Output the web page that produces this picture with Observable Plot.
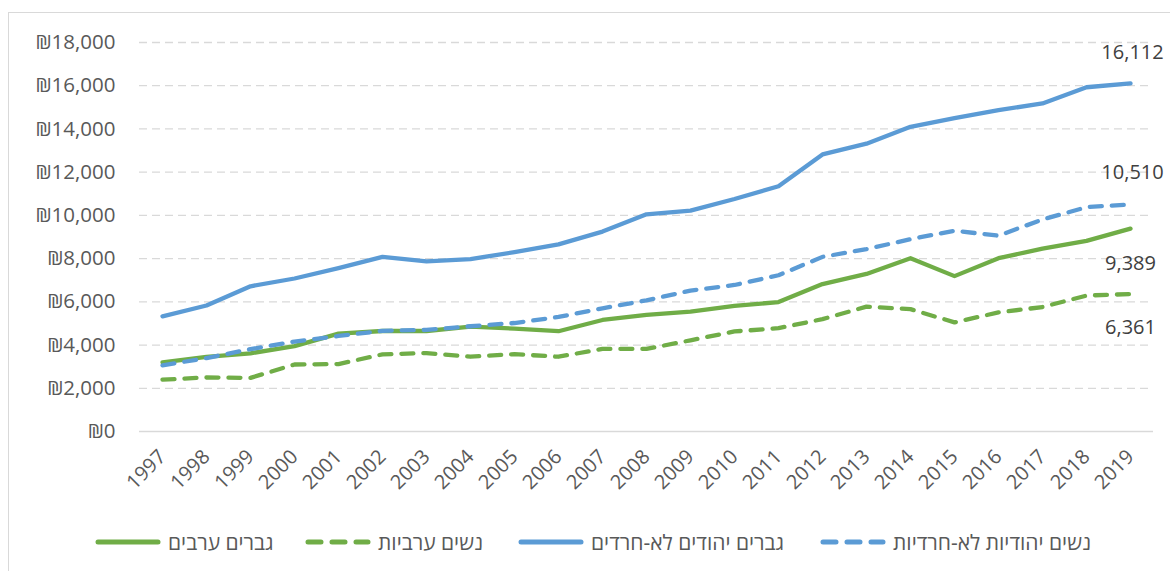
<!DOCTYPE html>
<html><head><meta charset="utf-8">
<script src="https://cdn.jsdelivr.net/npm/d3@7"></script>
<script src="https://cdn.jsdelivr.net/npm/@observablehq/plot@0.6"></script>
<style>
body{margin:0;background:#fff;}
#wrap{position:relative;width:1170px;height:571px;overflow:hidden;font-family:"Open Sans","DejaVu Sans",sans-serif;}
#frame{position:absolute;left:8px;top:12px;width:1200px;height:600px;border:1px solid #d9d9d9;box-sizing:border-box;}
#chart{position:absolute;left:0;top:0;}
#legend{position:absolute;top:528px;left:0;color:#595959;font-size:21px;white-space:nowrap;}
#legend .item{display:flex;align-items:center;position:absolute;top:0;}
#legend svg{display:block;}
</style></head><body>
<div id="wrap"><div id="frame"></div><div id="chart"></div><div id="legend"></div></div>
<script>
const years = ["1997","1998","1999","2000","2001","2002","2003","2004","2005","2006","2007","2008","2009","2010","2011","2012","2013","2014","2015","2016","2017","2018","2019"];
const arabMen   = [3200,3450,3620,3950,4530,4650,4650,4850,4760,4640,5160,5400,5550,5810,5990,6820,7290,8020,7190,8020,8460,8820,9389];
const arabWomen = [2400,2500,2480,3100,3120,3570,3630,3460,3580,3460,3820,3820,4220,4630,4780,5200,5780,5660,5050,5510,5760,6290,6361];
const jewMen    = [5330,5830,6720,7080,7560,8080,7870,7980,8300,8660,9250,10050,10220,10760,11350,12820,13320,14100,14500,14870,15180,15930,16112];
const jewWomen  = [3060,3400,3810,4160,4420,4660,4700,4870,5020,5300,5700,6070,6520,6780,7230,8080,8440,8900,9290,9060,9810,10380,10510];
const seriesNames = ["גברים ערבים","נשים ערביות","גברים יהודים לא-חרדים","נשים יהודיות לא-חרדיות"];
const yTicks = [0,2000,4000,6000,8000,10000,12000,14000,16000,18000];

const seriesValues = [arabMen, arabWomen, jewMen, jewWomen];
const styles = [
  {stroke:"#70ad47", dash:null, labelDy:35, labelDx:0},
  {stroke:"#70ad47", dash:"12,10", labelDy:34, labelDx:0},
  {stroke:"#5b9bd5", dash:null, labelDy:-31, labelDx:2},
  {stroke:"#5b9bd5", dash:"12,10", labelDy:-32, labelDx:2}
];

const rows = [];
seriesNames.forEach((name, si) => seriesValues[si].forEach((v, i) => rows.push({name, year: years[i], value: v, last: i === years.length - 1})));

const fmt = d3.format(",");
const H = 520;
const marks = [
  Plot.ruleY(yTicks.filter(d => d > 0), {stroke:"#d9d9d9", strokeWidth:1.3, strokeDasharray:"8,5"}),
  Plot.ruleY([0], {stroke:"#d9d9d9", strokeWidth:1.5}),
  Plot.axisY({ticks: yTicks, tickFormat: d => "₪" + fmt(d), tickSize:0, tickPadding:24, fontSize:20.5}),
  Plot.axisX({tickRotate:-45, tickSize:0, tickPadding:22, fontSize:20})
];
seriesNames.forEach((name, si) => {
  const st = styles[si];
  marks.push(Plot.line(rows.filter(r => r.name === name), {x:"year", y:"value", stroke: st.stroke, strokeWidth:4.3, strokeDasharray: st.dash || undefined, strokeLinecap:"round", strokeLinejoin:"round"}));
});
seriesNames.forEach((name, si) => {
  const st = styles[si];
  marks.push(Plot.text(rows.filter(r => r.name === name && r.last), {x:"year", y:"value", text: d => fmt(d.value), dy: st.labelDy, dx: st.labelDx, fill:"#404040", fontSize:20}));
});

const chart = Plot.plot({
  width: 1170, height: H,
  marginLeft: 139, marginRight: 17, marginTop: 42, marginBottom: H - 431,
  style: {fontFamily: '"Open Sans","DejaVu Sans",sans-serif', color:"#595959", background:"transparent", overflow:"visible"},
  x: {type:"point", domain: years, padding:0.5, align:0.5, label:null},
  y: {domain:[0,18000], label:null},
  marks
});
document.getElementById("chart").appendChild(chart);

const legend = document.getElementById("legend");
const lefts = [95, 305, 518, 820];
seriesNames.forEach((name, si) => {
  const st = styles[si];
  const item = document.createElement("div");
  item.className = "item";
  item.style.left = lefts[si] + "px";
  const ns = "http://www.w3.org/2000/svg";
  const s = document.createElementNS(ns, "svg");
  s.setAttribute("width", 66); s.setAttribute("height", 10);
  const l = document.createElementNS(ns, "line");
  l.setAttribute("x1", 3); l.setAttribute("x2", 63); l.setAttribute("y1", 5); l.setAttribute("y2", 5);
  l.setAttribute("stroke", st.stroke); l.setAttribute("stroke-width", 5); l.setAttribute("stroke-linecap", "round");
  if (st.dash) l.setAttribute("stroke-dasharray", "13,11");
  s.appendChild(l);
  const t = document.createElement("span");
  t.textContent = name;
  t.style.marginLeft = "7px";
  item.appendChild(s); item.appendChild(t);
  legend.appendChild(item);
});
</script>
</body></html>
